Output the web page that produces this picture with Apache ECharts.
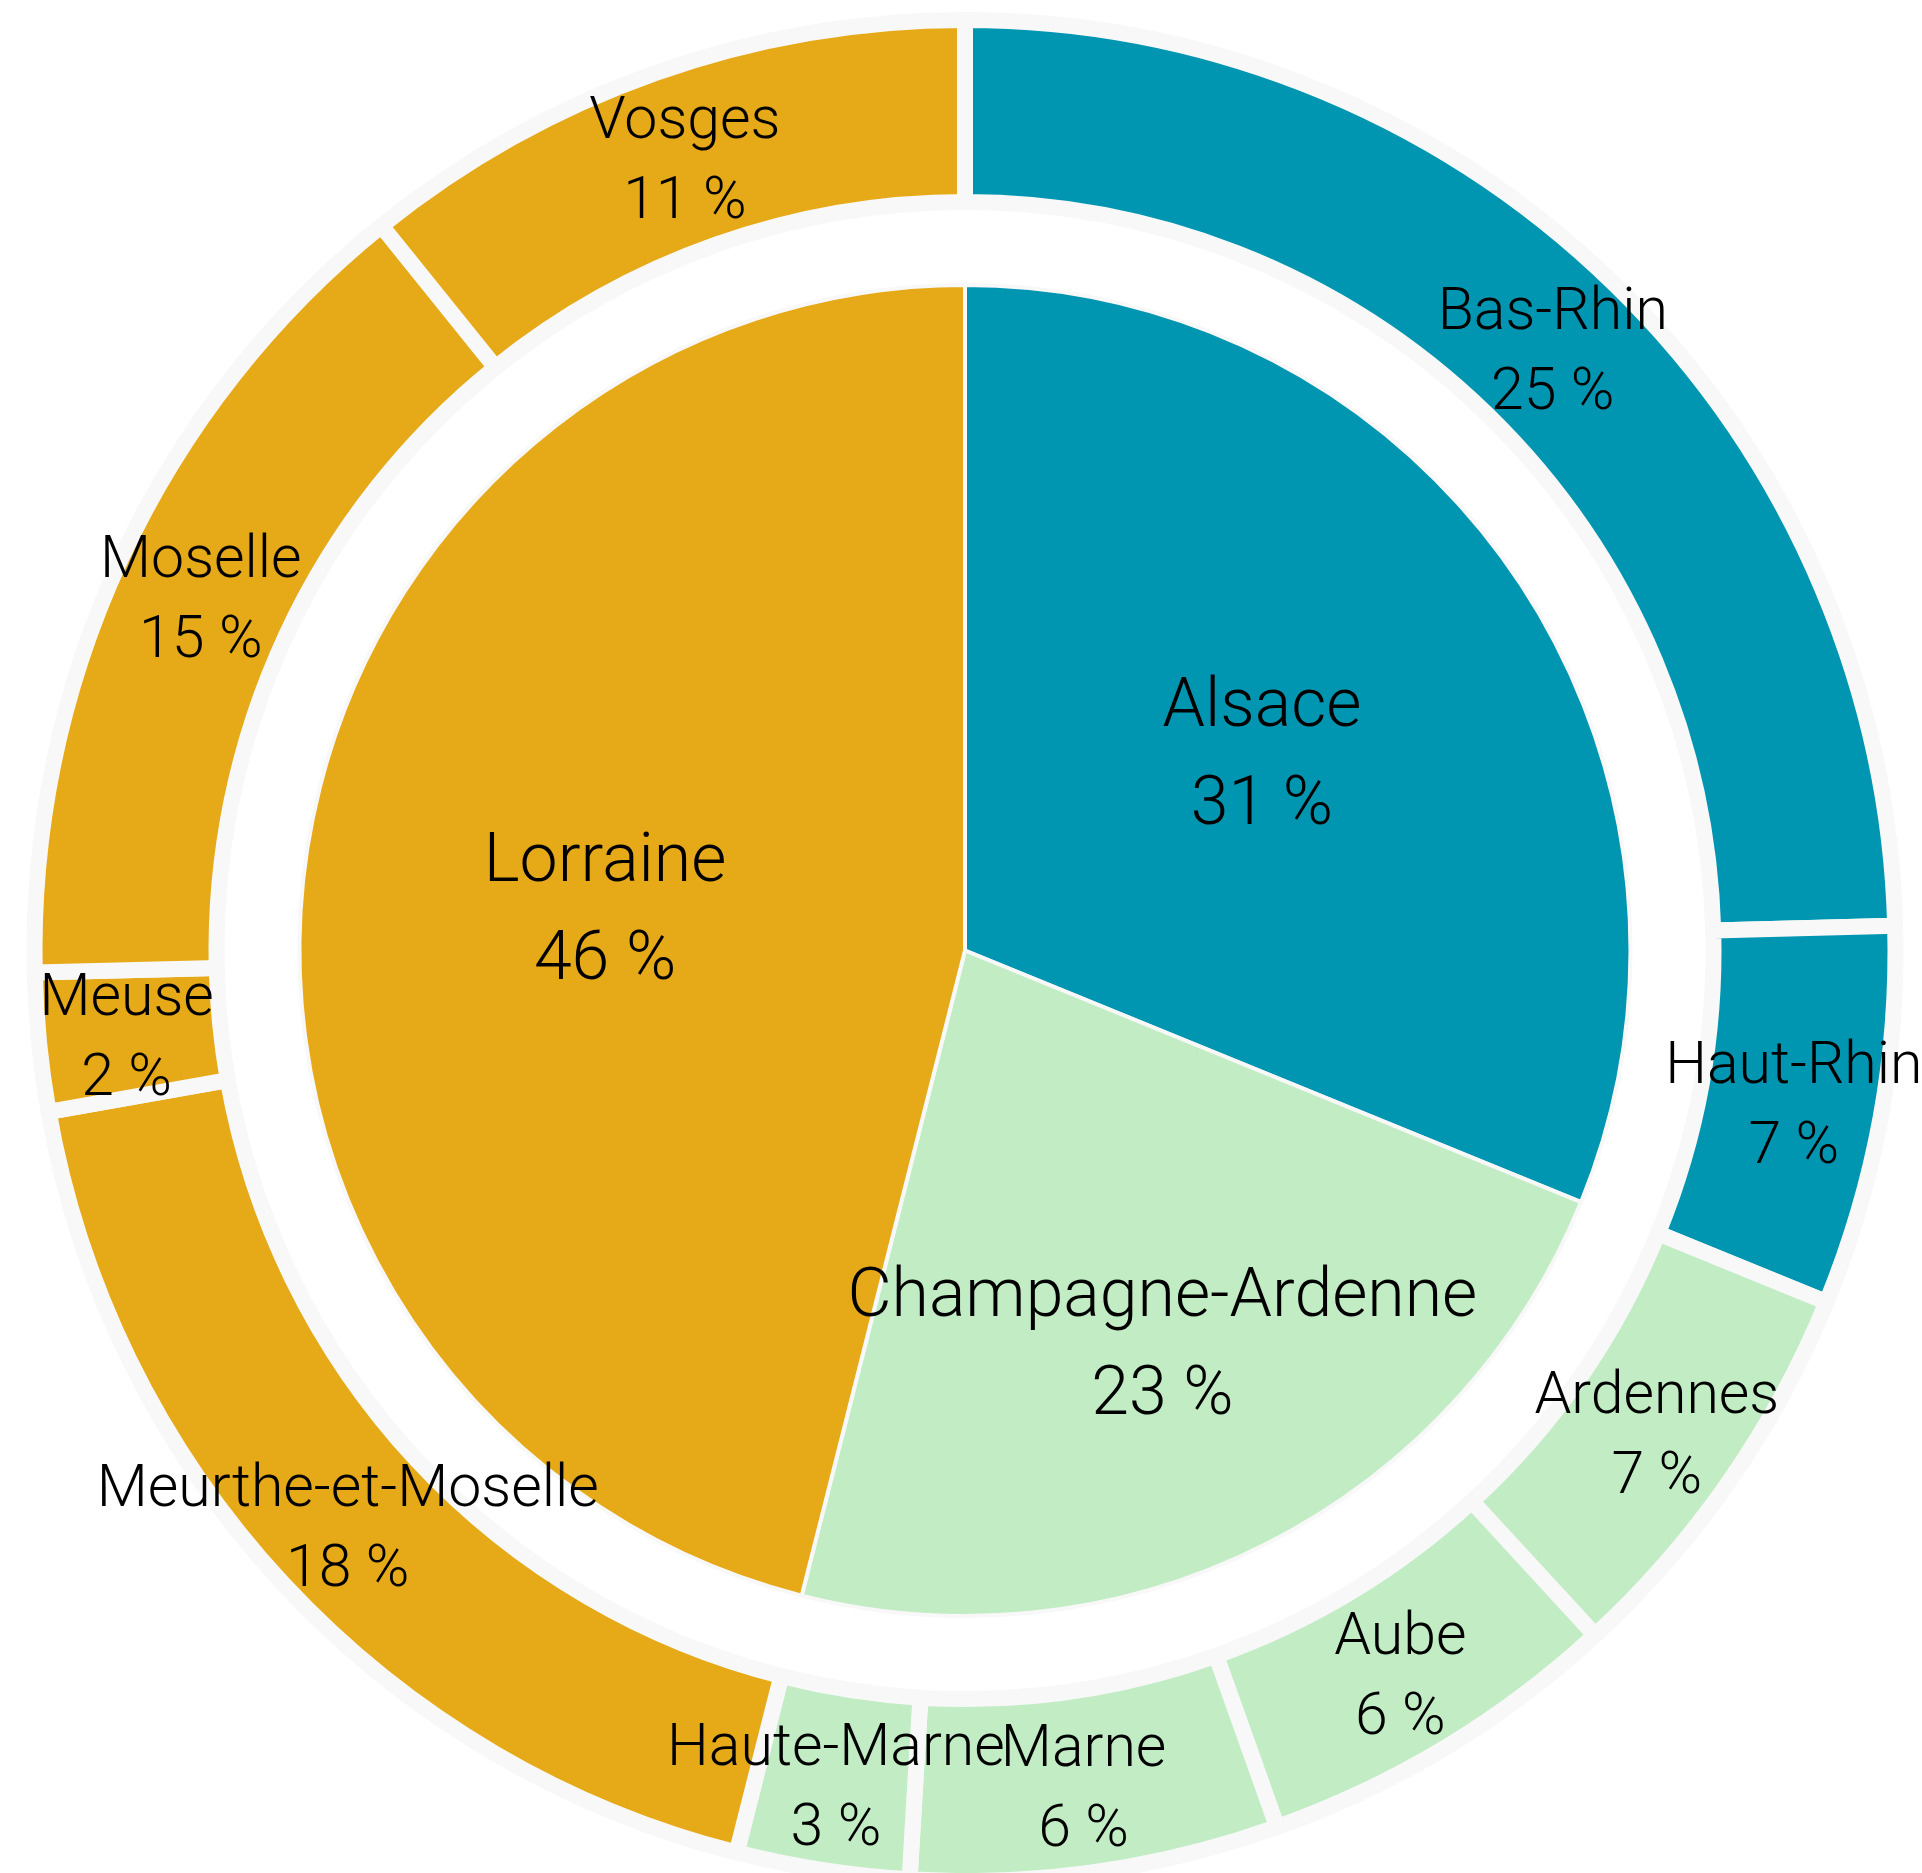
<!DOCTYPE html>
<html>
<head>
<meta charset="utf-8">
<script src="https://cdn.jsdelivr.net/npm/echarts@6/dist/echarts.min.js"></script>
<style>
    html, body { margin: 0; padding: 0; background: #fff; }
    #chart { width: 1922px; height: 1873px; }
</style>
</head>
<body>
<div id="chart"></div>
<script>
    // inner ring : régions
    const regions = ['Alsace', 'Champagne-Ardenne', 'Lorraine']
    const regionValues = [31.2, 22.8, 46.1]
    // outer ring : départements (same order as regions)
    const departements = ['Bas-Rhin', 'Haut-Rhin', 'Ardennes', 'Aube', 'Marne', 'Haute-Marne',
        'Meurthe-et-Moselle', 'Meuse', 'Moselle', 'Vosges']
    const deptValues = [24.6, 6.6, 7.0, 6.4, 6.4, 3.0, 18.3, 2.4, 14.6, 10.8]
    const deptRegion = [0, 0, 1, 1, 1, 1, 2, 2, 2, 2]

    const regionColors = ['#0096b1', '#c1ecc4', '#e6a917']
    const fontName = "Roboto, 'DejaVu Sans Condensed', sans-serif"
    const center = [965, 950.5]
    // radial push of the inner labels (px)
    const innerLabelShift = [22, 102, 27]

    const chartInstance = echarts.init(document.getElementById('chart'), null, { renderer: 'canvas' })

    function pctLabel(p) {
        return p.name + '\n' + Math.round(p.percent) + ' %'
    }

    const option = {
        backgroundColor: '#ffffff',
        animation: false,
        series: [
            {
                name: 'regions',
                type: 'pie',
                center: center,
                radius: [0, 665.5],
                startAngle: 90,
                clockwise: true,
                avoidLabelOverlap: false,
                itemStyle: {
                    borderColor: '#f8f8f8',
                    borderWidth: 4
                },
                label: {
                    position: 'inside',
                    formatter: pctLabel,
                    color: '#000',
                    fontFamily: fontName,
                    fontWeight: 300,
                    fontSize: 68,
                    lineHeight: 98
                },
                labelLine: { show: false },
                emphasis: { disabled: true },
                labelLayout: function (params) {
                    const r = params.labelRect
                    const cx = r.x + r.width / 2 - center[0]
                    const cy = r.y + r.height / 2 - center[1]
                    const len = Math.sqrt(cx * cx + cy * cy) || 1
                    const s = innerLabelShift[params.dataIndex]
                    return { dx: cx / len * s, dy: cy / len * s + 7, hideOverlap: false }
                },
                data: regions.map((name, i) => ({
                    name: name,
                    value: regionValues[i],
                    itemStyle: { color: regionColors[i] }
                }))
            },
            {
                name: 'departements',
                type: 'pie',
                center: center,
                radius: [748.5, 930.5],
                startAngle: 90,
                clockwise: true,
                avoidLabelOverlap: false,
                itemStyle: {
                    borderColor: '#f8f8f8',
                    borderWidth: 16
                },
                label: {
                    position: 'inside',
                    formatter: pctLabel,
                    color: '#000',
                    fontFamily: fontName,
                    fontWeight: 300,
                    fontSize: 59,
                    lineHeight: 80
                },
                labelLine: { show: false },
                emphasis: { disabled: true },
                labelLayout: { hideOverlap: false, dy: 7 },
                data: departements.map((name, i) => ({
                    name: name,
                    value: deptValues[i],
                    itemStyle: { color: regionColors[deptRegion[i]] }
                }))
            }
        ]
    }
    chartInstance.setOption(option)
</script>
</body>
</html>
